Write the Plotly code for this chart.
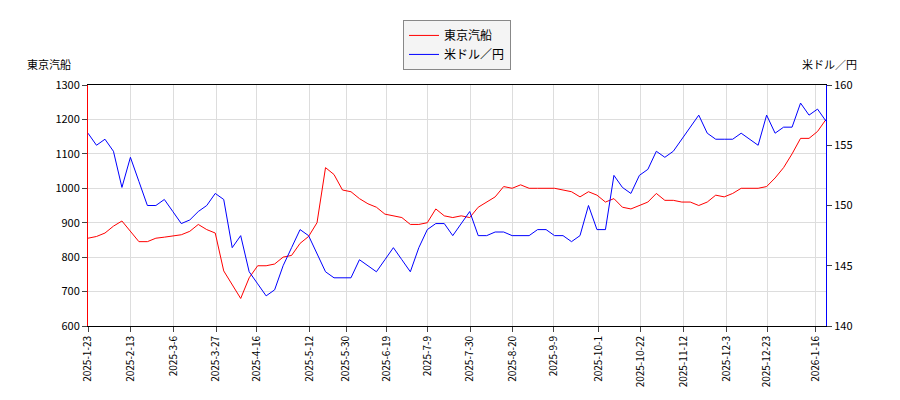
import plotly.graph_objects as go
import pandas as pd

stock = [855, 860, 870, 890, 905, 875, 845, 845, 855, 858, 862, 865, 875, 895, 880, 870,
         760, 720, 680, 740, 775, 775, 780, 800, 805, 840, 860, 900, 1060, 1040, 995, 990,
         970, 955, 945, 925, 920, 915, 895, 895, 900, 940, 920, 915, 920, 915, 945, 960,
         975, 1005, 1000, 1010, 1000, 1000, 1000, 1000, 995, 990, 975, 990, 980, 960, 970,
         945, 940, 950, 960, 985, 965, 965, 960, 960, 950, 960, 980, 975, 985, 1000, 1000,
         1000, 1005, 1030, 1060, 1100, 1145, 1145, 1165, 1200]
usdjpy = [156, 155, 155.5, 154.5, 151.5, 154, 152, 150, 150, 150.5, 149.5, 148.5, 148.8,
          149.5, 150, 151, 150.5, 146.5, 147.5, 144.5, 143.5, 142.5, 143, 145, 146.5, 148,
          147.5, 146, 144.5, 144, 144, 144, 145.5, 145, 144.5, 145.5, 146.5, 145.5, 144.5,
          146.5, 148, 148.5, 148.5, 147.5, 148.5, 149.5, 147.5, 147.5, 147.8, 147.8, 147.5,
          147.5, 147.5, 148, 148, 147.5, 147.5, 147, 147.5, 150, 148, 148, 152.5, 151.5,
          151, 152.5, 153, 154.5, 154, 154.5, 155.5, 156.5, 157.5, 156, 155.5, 155.5, 155.5,
          156, 155.5, 155, 157.5, 156, 156.5, 156.5, 158.5, 157.5, 158, 157]
tick_labels = ["2025-1-23", "2025-2-13", "2025-3-6", "2025-3-27", "2025-4-16", "2025-5-12",
               "2025-5-30", "2025-6-19", "2025-7-9", "2025-7-30", "2025-8-20", "2025-9-9",
               "2025-10-1", "2025-10-22", "2025-11-12", "2025-12-3", "2025-12-23", "2026-1-16"]
tick_dates = pd.to_datetime(tick_labels)

dates = pd.date_range("2025-01-23", "2026-01-21", periods=len(stock))

fig = go.Figure()
fig.add_trace(go.Scatter(x=dates, y=stock, name="東京汽船", mode="lines",
                         line=dict(color="red", width=1)))
fig.add_trace(go.Scatter(x=dates, y=usdjpy, name="米ドル／円", mode="lines",
                         line=dict(color="blue", width=1), yaxis="y2"))

fig.update_layout(
    width=900, height=400,
    margin=dict(l=80, r=82, t=56, b=82),
    plot_bgcolor="white", paper_bgcolor="white",
    font=dict(family="Noto Sans CJK JP", size=11, color="black"),
    showlegend=True,
    legend=dict(x=0.5, xanchor="center", y=1.27, yanchor="top", bordercolor="#888",
                borderwidth=1, bgcolor="#f4f4f4", font=dict(size=12)),
    xaxis=dict(range=[dates[0], dates[-1]], tickvals=tick_dates, ticktext=tick_labels,
               tickangle=-90, showgrid=True, gridcolor="#dddddd", ticks="outside",
               linecolor="black", mirror=True, tickfont=dict(size=10)),
    yaxis=dict(range=[600, 1300], dtick=100, showgrid=True, gridcolor="#dddddd",
               ticks="outside", linecolor="red", tickfont=dict(size=11)),
    yaxis2=dict(range=[140, 160], dtick=5, overlaying="y", side="right",
                showgrid=False, ticks="outside", linecolor="blue", tickfont=dict(size=11)),
    annotations=[
        dict(text="東京汽船", xref="paper", yref="paper", x=-0.085, y=1.13,
             xanchor="left", showarrow=False, font=dict(size=11)),
        dict(text="米ドル／円", xref="paper", yref="paper", x=1.045, y=1.13,
             xanchor="right", showarrow=False, font=dict(size=11)),
    ],
)

fig.write_html("out.html")
